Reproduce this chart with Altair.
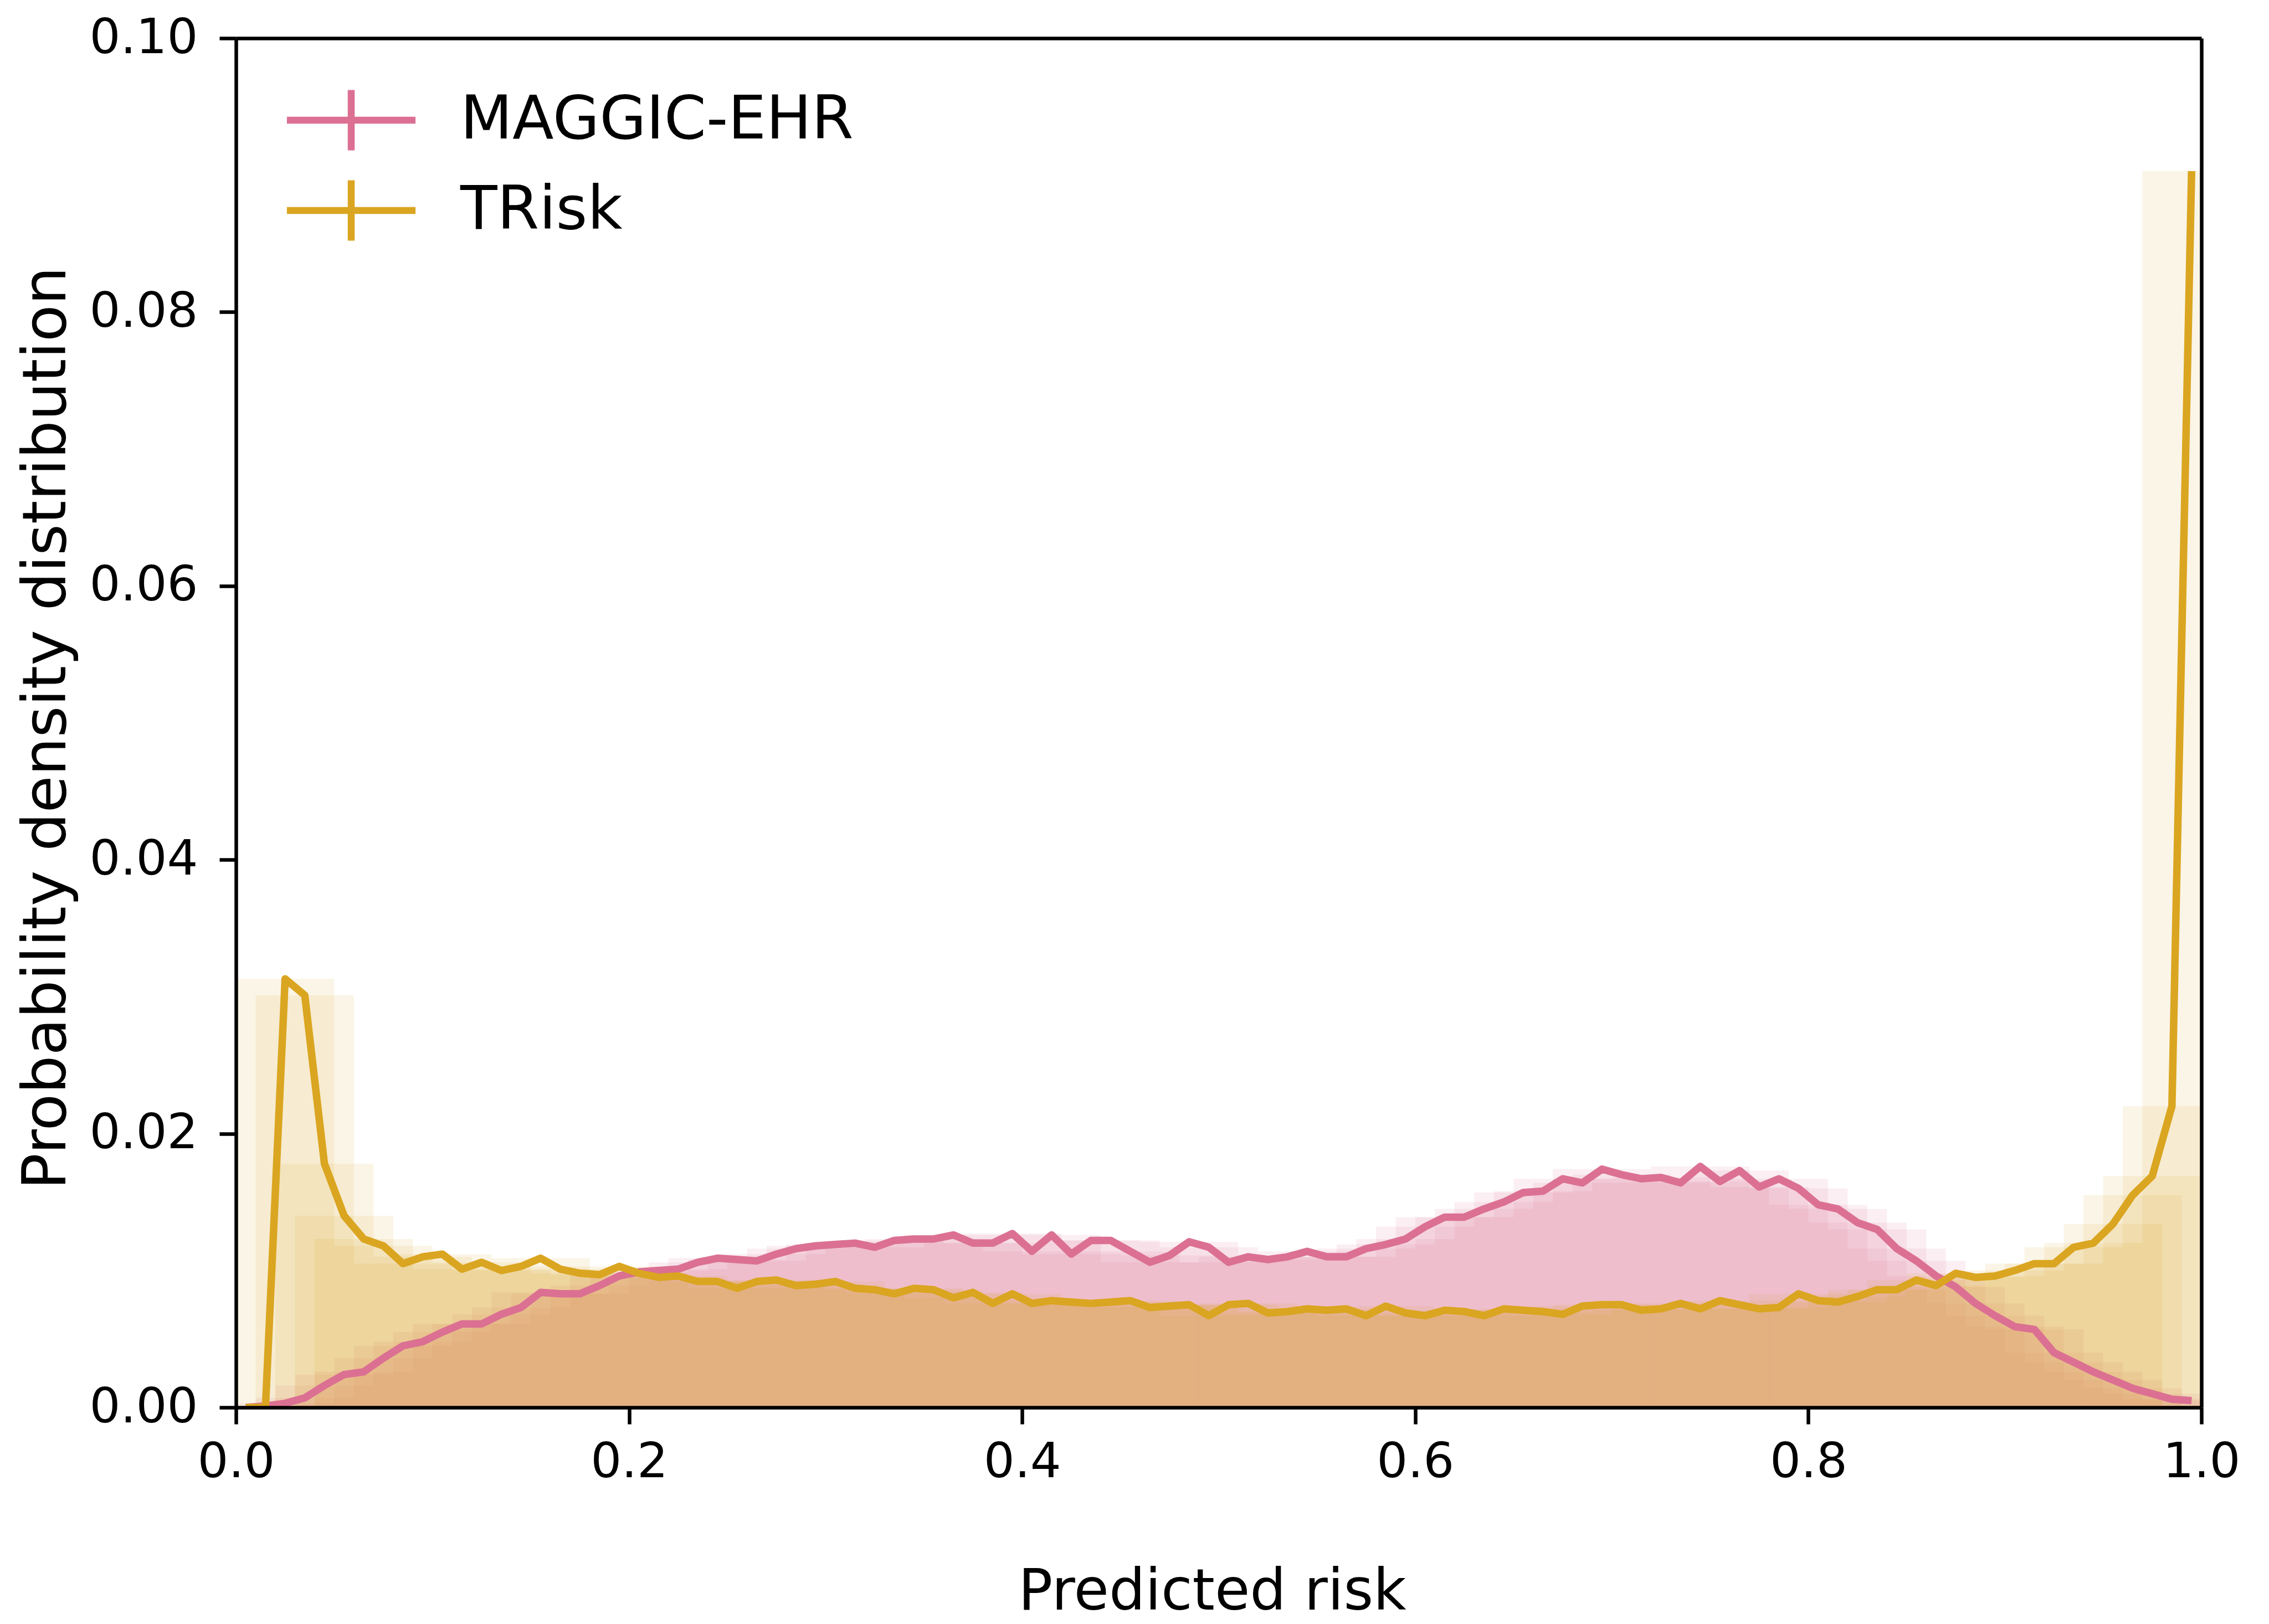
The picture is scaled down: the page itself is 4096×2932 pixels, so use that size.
import altair as alt
import pandas as pd

# bin centres of the predicted-risk axis (bins of 0.01)
risk = [round(0.005 + 0.01 * i, 3) for i in range(100)]

models = ["MAGGIC-EHR", "TRisk"]
colors = ["#DB7093", "#DAA520"]
bar_opacity = [0.115, 0.105]

maggic_ehr = [
    0.0000, 0.0001, 0.0003, 0.0007, 0.0016, 0.0024, 0.0026, 0.0036, 0.0045, 0.0048,
    0.0055, 0.0061, 0.0061, 0.0068, 0.0073, 0.0084, 0.0083, 0.0083, 0.0089, 0.0096,
    0.0099, 0.0100, 0.0101, 0.0106, 0.0109, 0.0108, 0.0107, 0.0112, 0.0116, 0.0118,
    0.0119, 0.0120, 0.0117, 0.0122, 0.0123, 0.0123, 0.0126, 0.0120, 0.0120, 0.0127,
    0.0114, 0.0126, 0.0112, 0.0122, 0.0122, 0.0114, 0.0106, 0.0111, 0.0121, 0.0117,
    0.0106, 0.0110, 0.0108, 0.0110, 0.0114, 0.0110, 0.0110, 0.0116, 0.0119, 0.0123,
    0.0132, 0.0139, 0.0139, 0.0145, 0.0150, 0.0157, 0.0158, 0.0167, 0.0164, 0.0174,
    0.0170, 0.0167, 0.0168, 0.0164, 0.0176, 0.0165, 0.0173, 0.0161, 0.0167, 0.0160,
    0.0148, 0.0145, 0.0135, 0.0130, 0.0116, 0.0107, 0.0096, 0.0088, 0.0076, 0.0067,
    0.0059, 0.0057, 0.0040, 0.0033, 0.0026, 0.0020, 0.0014, 0.0010, 0.0006, 0.0005,
]

trisk = [
    0.0000, 0.0000, 0.0313, 0.0301, 0.0178, 0.0140, 0.0123, 0.0118, 0.0105, 0.0110,
    0.0112, 0.0101, 0.0106, 0.0100, 0.0103, 0.0109, 0.0101, 0.0098, 0.0097, 0.0103,
    0.0098, 0.0095, 0.0096, 0.0092, 0.0092, 0.0087, 0.0092, 0.0093, 0.0089, 0.0090,
    0.0092, 0.0087, 0.0086, 0.0083, 0.0087, 0.0086, 0.0080, 0.0084, 0.0076, 0.0083,
    0.0076, 0.0078, 0.0077, 0.0076, 0.0077, 0.0078, 0.0073, 0.0074, 0.0075, 0.0067,
    0.0075, 0.0076, 0.0069, 0.0070, 0.0072, 0.0071, 0.0072, 0.0067, 0.0074, 0.0069,
    0.0067, 0.0071, 0.0070, 0.0067, 0.0072, 0.0071, 0.0070, 0.0068, 0.0074, 0.0075,
    0.0075, 0.0071, 0.0072, 0.0076, 0.0072, 0.0078, 0.0075, 0.0072, 0.0073, 0.0083,
    0.0078, 0.0077, 0.0081, 0.0086, 0.0086, 0.0093, 0.0089, 0.0098, 0.0095, 0.0096,
    0.0100, 0.0105, 0.0105, 0.0117, 0.0120, 0.0134, 0.0155, 0.0169, 0.0220, 0.0903,
]

x_ticks = [0.0, 0.2, 0.4, 0.6, 0.8, 1.0]
y_ticks = [0.0, 0.02, 0.04, 0.06, 0.08, 0.10]

df = pd.DataFrame({
    "risk": risk + risk,
    "density": maggic_ehr + trisk,
    "model": [models[0]] * len(risk) + [models[1]] * len(risk),
})

W, H = 3548, 2472
FONT = "DejaVu Sans"
LW = 6.5

xs = alt.Scale(domain=[0, 1], nice=False, zero=False)
ys = alt.Scale(domain=[0, 0.1], nice=False, zero=False)


def bar_layer(k):
    return (
        alt.Chart(df)
        .transform_filter(alt.datum.model == models[k])
        .transform_calculate(lo="datum.risk - 0.025", hi="datum.risk + 0.025")
        .mark_rect(clip=True, color=colors[k], opacity=bar_opacity[k], strokeWidth=0)
        .encode(
            x=alt.X("lo:Q", scale=xs, axis=None),
            x2="hi:Q",
            y=alt.Y("density:Q", scale=ys, axis=None),
            y2=alt.datum(0),
        )
    )


common_axis = dict(
    grid=False, domain=True, domainColor="black", domainWidth=LW,
    ticks=True, tickSize=30, tickWidth=LW, tickColor="black",
    labelFontSize=88, labelFont=FONT, labelColor="black",
    labelFlush=False, labelOverlap=False, labelLimit=2000,
    titleFont=FONT, titleFontWeight="normal", titleColor="black",
    titleBaseline="middle", titleAlign="center", titleLimit=4000, zindex=1,
)

xaxis = alt.Axis(
    title="Predicted risk", values=x_ticks, format=".1f", labelPadding=25,
    titleFontSize=103, titleX=1762, titleY=333, **common_axis,
)
yaxis = alt.Axis(
    title="Probability density distribution", values=y_ticks, format=".2f",
    labelPadding=39, titleFontSize=109, titleX=-342, titleY=1245, titleAngle=270,
    **common_axis,
)

lines = (
    alt.Chart(df)
    .mark_line(strokeWidth=13.5, clip=True, strokeJoin="round", strokeCap="butt")
    .encode(
        x=alt.X("risk:Q", scale=xs, axis=xaxis),
        y=alt.Y("density:Q", scale=ys, axis=yaxis),
        color=alt.Color(
            "model:N",
            scale=alt.Scale(domain=models, range=colors),
            legend=alt.Legend(
                orient="none", legendX=91, legendY=87, title=None,
                symbolType="M-2.13,0H2.13M0,-1V1", symbolSize=109 * 109,
                symbolStrokeWidth=12.5, symbolOffset=56, symbolFillColor="transparent",
                labelOffset=136, labelFontSize=109, labelFont=FONT, labelColor="black",
                labelLimit=3000, rowPadding=3, padding=0,
            ),
        ),
    )
)

frame_axis = dict(
    labels=False, ticks=False, title=None, grid=False,
    domain=True, domainColor="black", domainWidth=LW, zindex=1,
)
frame = (
    alt.Chart(df)
    .mark_point(opacity=0)
    .encode(
        x=alt.X("risk:Q", scale=xs, axis=alt.Axis(orient="top", **frame_axis)),
        y=alt.Y("density:Q", scale=ys, axis=alt.Axis(orient="right", **frame_axis)),
    )
)

chart = (
    alt.layer(bar_layer(0), bar_layer(1), lines, frame)
    .resolve_axis(x="independent", y="independent")
    .properties(
        width=W, height=H,
        padding={"left": 426, "top": 69, "right": 122, "bottom": 391},
        autosize=alt.AutoSizeParams(type="none"),
        background="white",
    )
    .configure_view(stroke=None)
)

chart.save("out.html", embed_options={"renderer": "svg", "actions": False})
